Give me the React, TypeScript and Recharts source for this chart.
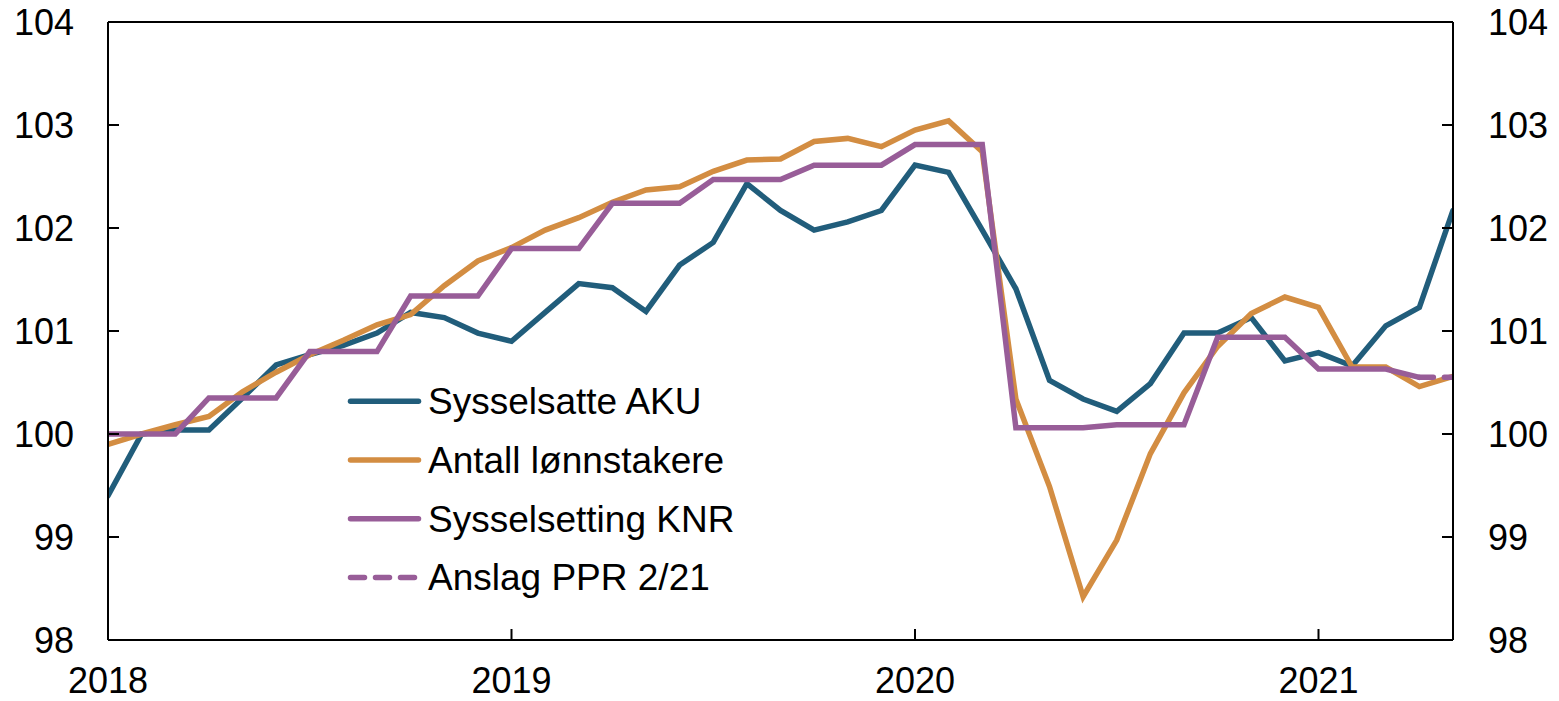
import React from 'react';
import { LineChart, Line, XAxis, YAxis, ReferenceLine, Legend } from 'recharts';

// Monthly categories, Jan 2018 – May 2021
const months: string[] = [
  '2018-01', '2018-02', '2018-03', '2018-04', '2018-05', '2018-06', '2018-07', '2018-08', '2018-09', '2018-10', '2018-11', '2018-12',
  '2019-01', '2019-02', '2019-03', '2019-04', '2019-05', '2019-06', '2019-07', '2019-08', '2019-09', '2019-10', '2019-11', '2019-12',
  '2020-01', '2020-02', '2020-03', '2020-04', '2020-05', '2020-06', '2020-07', '2020-08', '2020-09', '2020-10', '2020-11', '2020-12',
  '2021-01', '2021-02', '2021-03', '2021-04', '2021-05',
];

const sysselsatteAKU: (number | null)[] = [
  99.4, 100.0, 100.04, 100.04, 100.35, 100.67, 100.77, 100.86, 100.98, 101.18, 101.13, 100.98,
  100.9, 101.18, 101.46, 101.42, 101.19, 101.64, 101.86, 102.43, 102.17, 101.98, 102.06, 102.17,
  102.61, 102.54, 101.98, 101.41, 100.52, 100.34, 100.22, 100.49, 100.98, 100.98, 101.13, 100.71,
  100.79, 100.66, 101.05, 101.23, 102.17,
];

const antallLonnstakere: (number | null)[] = [
  99.9, 100.0, 100.09, 100.17, 100.41, 100.6, 100.77, 100.91, 101.06, 101.16, 101.44, 101.68,
  101.81, 101.98, 102.1, 102.25, 102.37, 102.4, 102.55, 102.66, 102.67, 102.84, 102.87, 102.79,
  102.95, 103.04, 102.74, 100.34, 99.49, 98.42, 98.97, 99.81, 100.4, 100.85, 101.17, 101.33,
  101.23, 100.65, 100.65, 100.46, 100.56,
];

const sysselsettingKNR: (number | null)[] = [
  100.0, 100.0, 100.0, 100.35, 100.35, 100.35, 100.8, 100.8, 100.8, 101.34, 101.34, 101.34,
  101.8, 101.8, 101.8, 102.24, 102.24, 102.24, 102.47, 102.47, 102.47, 102.61, 102.61, 102.61,
  102.81, 102.81, 102.81, 100.06, 100.06, 100.06, 100.09, 100.09, 100.09, 100.94, 100.94, 100.94,
  100.63, 100.63, 100.63, 100.55, null,
];

const anslagPPR: (number | null)[] = [
  null, null, null, null, null, null, null, null, null, null, null, null,
  null, null, null, null, null, null, null, null, null, null, null, null,
  null, null, null, null, null, null, null, null, null, null, null, null,
  null, null, null, 100.55, 100.55,
];

const yearTickIndex: number[] = [0, 12, 24, 36];
const yearTickLabels: string[] = ['2018', '2019', '2020', '2021'];
const yTicks: number[] = [98, 99, 100, 101, 102, 103, 104];

const seriesNames = {
  aku: 'Sysselsatte AKU',
  lonn: 'Antall lønnstakere',
  knr: 'Sysselsetting KNR',
  ppr: 'Anslag PPR 2/21',
};

const COLORS = {
  aku: '#215D7B',
  lonn: '#D38D42',
  knr: '#985D98',
};

const data = months.map((m, i) => ({
  i,
  month: m,
  aku: sysselsatteAKU[i],
  lonn: antallLonnstakere[i],
  knr: sysselsettingKNR[i],
  ppr: anslagPPR[i],
}));

const FONT = 'Liberation Sans, Arial, sans-serif';
const LW = 5.5;

const legendItems = [
  { key: 'aku', name: seriesNames.aku, color: COLORS.aku, dash: undefined as string | undefined },
  { key: 'lonn', name: seriesNames.lonn, color: COLORS.lonn, dash: undefined as string | undefined },
  { key: 'knr', name: seriesNames.knr, color: COLORS.knr, dash: undefined as string | undefined },
  { key: 'ppr', name: seriesNames.ppr, color: COLORS.knr, dash: '14 11' },
];

const LegendContent = () => {
  const rowH = 58.7;
  return (
    <svg width={420} height={240} style={{ display: 'block', overflow: 'visible' }}>
      {legendItems.map((it, k) => {
        const cy = rowH / 2 + k * rowH;
        return (
          <g key={it.key}>
            <line
              x1={12.5}
              x2={80.5}
              y1={cy}
              y2={cy}
              stroke={it.color}
              strokeWidth={LW}
              strokeLinecap="round"
              strokeDasharray={it.dash}
            />
            <text x={90} y={cy + 13} fontSize={37} fontFamily={FONT} fill="#000">
              {it.name}
            </text>
          </g>
        );
      })}
    </svg>
  );
};

export default function App() {
  return (
    <div style={{ position: 'absolute', left: 0, top: 0, width: 1559, height: 701, background: '#fff' }}>
      <LineChart
        width={1559}
        height={701}
        data={data}
        margin={{ top: 22, right: 0, bottom: 0, left: 0 }}
        style={{ fontFamily: FONT }}
      >
        <XAxis
          dataKey="i"
          type="number"
          domain={[0, 40]}
          ticks={yearTickIndex}
          tickFormatter={(v: number) => yearTickLabels[yearTickIndex.indexOf(v)] ?? ''}
          height={61}
          stroke="#000"
          strokeWidth={2}
          tickSize={-11}
          tickMargin={38}
          tick={{ fill: '#000', fontSize: 36, fontFamily: FONT }}
          interval={0}
          allowDataOverflow
        />
        <YAxis
          yAxisId="left"
          orientation="left"
          domain={[98, 104]}
          ticks={yTicks}
          width={108}
          stroke="#000"
          strokeWidth={2}
          tickSize={-11}
          tickMargin={45}
          tick={{ fill: '#000', fontSize: 36, fontFamily: FONT }}
          interval={0}
          allowDataOverflow
        />
        <YAxis
          yAxisId="right"
          orientation="right"
          domain={[98, 104]}
          ticks={yTicks}
          width={106}
          stroke="#000"
          strokeWidth={2}
          tickSize={-11}
          tickMargin={46}
          tick={{ fill: '#000', fontSize: 36, fontFamily: FONT, textAnchor: 'start' }}
          interval={0}
          allowDataOverflow
        />
        <ReferenceLine yAxisId="left" y={104} stroke="#000" strokeWidth={2} ifOverflow="visible" />
        <Line
          yAxisId="left"
          dataKey="aku"
          name={seriesNames.aku}
          stroke={COLORS.aku}
          strokeWidth={LW}
          dot={false}
          activeDot={false}
          type="linear"
          strokeLinejoin="miter"
          strokeLinecap="round"
          isAnimationActive={false}
        />
        <Line
          yAxisId="left"
          dataKey="lonn"
          name={seriesNames.lonn}
          stroke={COLORS.lonn}
          strokeWidth={LW}
          dot={false}
          activeDot={false}
          type="linear"
          strokeLinejoin="miter"
          strokeLinecap="round"
          isAnimationActive={false}
        />
        <Line
          yAxisId="left"
          dataKey="knr"
          name={seriesNames.knr}
          stroke={COLORS.knr}
          strokeWidth={LW}
          dot={false}
          activeDot={false}
          type="linear"
          strokeLinejoin="miter"
          strokeLinecap="round"
          isAnimationActive={false}
        />
        <Line
          yAxisId="left"
          dataKey="ppr"
          name={seriesNames.ppr}
          stroke={COLORS.knr}
          strokeWidth={LW}
          strokeDasharray="14 11"
          dot={false}
          activeDot={false}
          type="linear"
          strokeLinecap="round"
          isAnimationActive={false}
        />
        <Legend
          layout="vertical"
          align="center"
          verticalAlign="middle"
          content={<LegendContent />}
          wrapperStyle={{ position: 'absolute', left: 338, top: 372, width: 420, height: 240 }}
        />
      </LineChart>
    </div>
  );
}
